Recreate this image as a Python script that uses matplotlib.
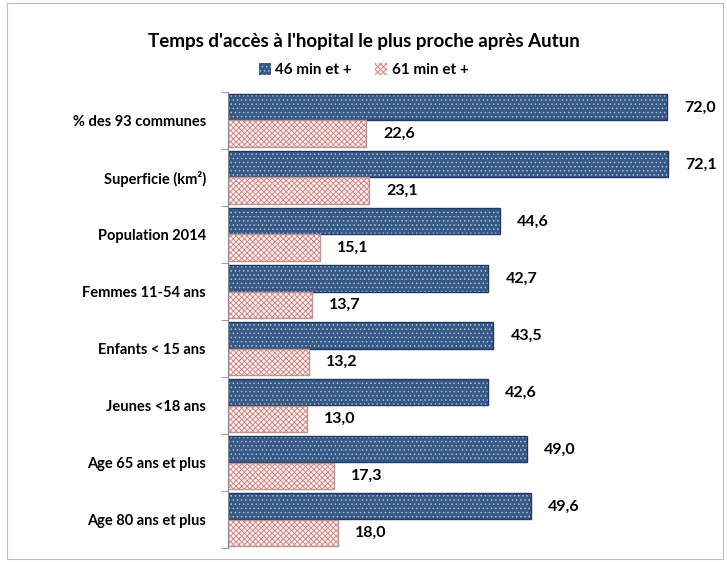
import matplotlib.pyplot as plt
import numpy as np

categories = ['% des 93 communes', 'Superficie (km²)', 'Population 2014',
              'Femmes 11-54 ans', 'Enfants < 15 ans', 'Jeunes <18 ans',
              'Age 65 ans et plus', 'Age 80 ans et plus']
min46 = [72.0, 72.1, 44.6, 42.7, 43.5, 42.6, 49.0, 49.6]
min61 = [22.6, 23.1, 15.1, 13.7, 13.2, 13.0, 17.3, 18.0]
series_names = ['46 min et +', '61 min et +']

plt.rcParams['font.family'] = ['Lato', 'DejaVu Sans']
plt.rcParams['hatch.linewidth'] = 0.6

fig = plt.figure(figsize=(7.27, 5.62), dpi=100)
ax = fig.add_axes([228 / 727, 14 / 562, 480 / 727, 456 / 562])

y = np.arange(len(categories))
h = 0.46

# fill + hatch, then outline
b1 = ax.barh(y - h / 2, min46, height=h, color='#365a85', edgecolor='#aabdd6',
             hatch='....', linewidth=0)
ax.barh(y - h / 2, min46, height=h, fill=False, edgecolor='#1f3864', linewidth=1)
b2 = ax.barh(y + h / 2, min61, height=h, color='#fbeeee', edgecolor='#cf7f7d',
             hatch='xxxxxx', linewidth=0)
ax.barh(y + h / 2, min61, height=h, fill=False, edgecolor='#c09290', linewidth=1)

for yi, v in zip(y, min46):
    ax.text(v + 2.8, yi - h / 2, f'{v:.1f}'.replace('.', ','), va='center',
            ha='left', fontsize=11.5, fontweight='bold')
for yi, v in zip(y, min61):
    ax.text(v + 2.8, yi + h / 2, f'{v:.1f}'.replace('.', ','), va='center',
            ha='left', fontsize=11.5, fontweight='bold')

ax.set_xlim(0, 78.7)
ax.set_ylim(len(categories) - 0.5, -0.5)
ax.set_yticks(y)
ax.set_yticklabels(categories, fontsize=10.5, fontweight='bold')
ax.set_yticks(np.arange(-0.5, len(categories)), minor=True)
ax.tick_params(axis='y', which='major', length=0, pad=16)
ax.tick_params(axis='y', which='minor', length=5, color='#888888', direction='out')
ax.set_xticks([])
for s in ['top', 'right', 'bottom']:
    ax.spines[s].set_visible(False)
ax.spines['left'].set_color('#888888')

fig.text(0.5, 1 - 42 / 562, "Temps d'accès à l'hopital le plus proche après Autun",
         ha='center', va='center', fontsize=13.5, fontweight='bold')
fig.legend([b1, b2], series_names, loc='center', bbox_to_anchor=(0.5, 1 - 70 / 562),
           ncol=2, frameon=False, handlelength=0.8, handleheight=0.8,
           handletextpad=0.3, columnspacing=1.5, prop={'weight': 'bold', 'size': 11})

border = plt.Rectangle((0.01, 0.005), 0.985, 0.99, transform=fig.transFigure,
                       fill=False, edgecolor='#bbbbbb', linewidth=0.8)
fig.patches.append(border)

fig.savefig('out.png', dpi=100)
